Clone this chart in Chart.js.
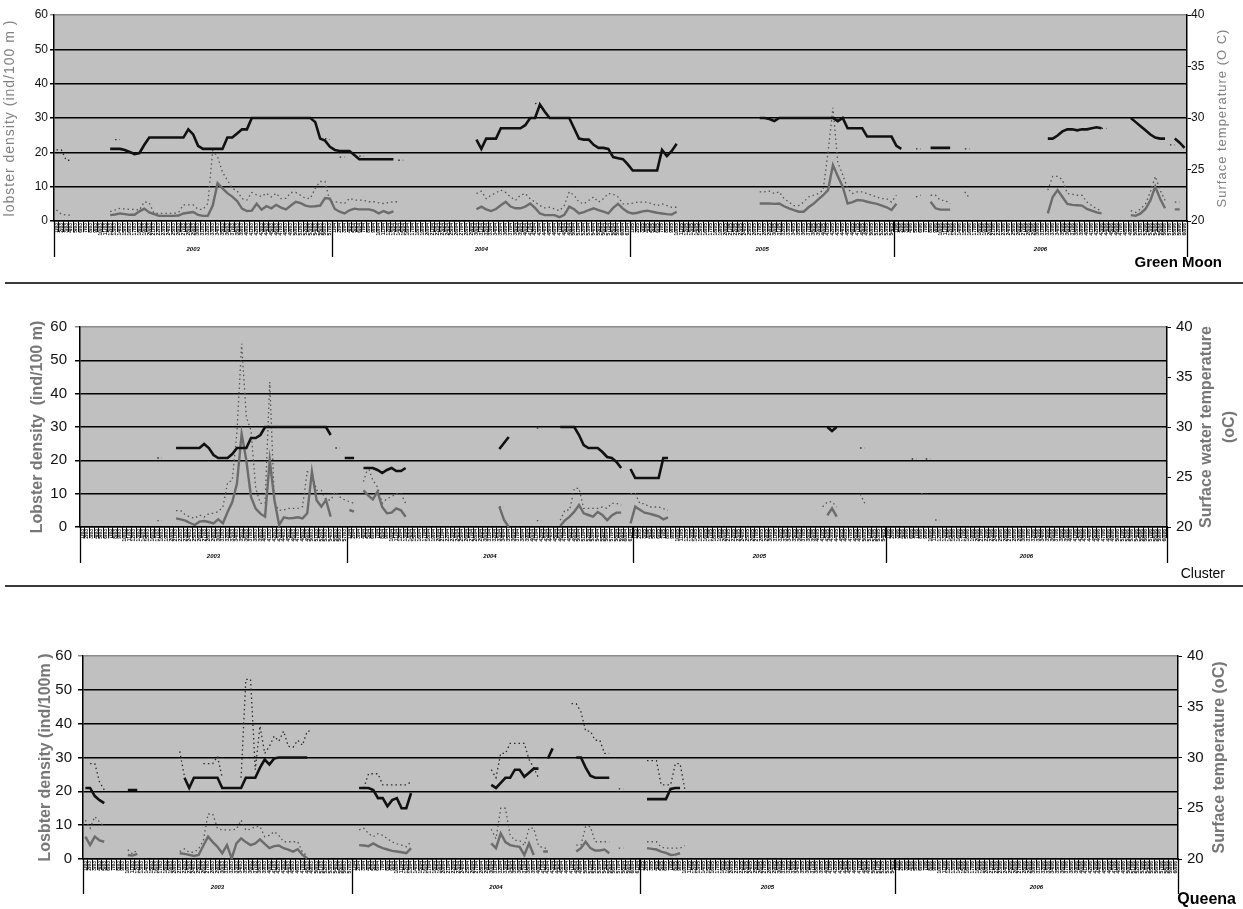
<!DOCTYPE html>
<html>
<head>
<meta charset="utf-8">
<script src="https://cdn.jsdelivr.net/npm/chart.js@4.4.1/dist/chart.umd.min.js"></script>
<style>
  body { margin: 0; background: #fff; }
  .panel { position: absolute; left: 0; width: 1243px; }
</style>
</head>
<body>
<div class="panel" style="top:0;height:290px"><canvas id="green" width="1243" height="290"></canvas></div>
<div class="panel" style="top:290px;height:300px"><canvas id="cluster" width="1243" height="300"></canvas></div>
<div class="panel" style="top:590px;height:319px"><canvas id="queena" width="1243" height="319"></canvas></div>
<script>
const _ = null;
const gap = n => Array(n).fill(null);
const FONT = '"Liberation Sans", Arial, sans-serif';

// sampling dates, grouped by year
const years = ['2003', '2004', '2005', '2006'];
const samplesPerYear = [57, 61, 54, 60];
const tickLabels = [];
years.forEach((y, k) => {
  for (let d = 1; d <= samplesPerYear[k]; d++) tickLabels.push(d + '/' + y.slice(2));
});

// ---- Green Moon ----
const gmTemp = [...gap(11),
  27.0,27.0,27.0,26.9,26.7,26.5,26.6,27.4,28.1,28.1,28.1,28.1,28.1,28.1,28.1,28.1,28.9,28.4,27.3,
  27.0,27.0,27.0,27.0,27.0,28.1,28.1,28.5,28.9,28.9,30,30,30,30,30,30,30,30,30,30,30,30,30,
  29.6,28.0,27.8,27.2,26.9,26.8,26.8,26.8,26.4,26.0,26,26,26,26,26,26,26,
  ...gap(16),
  27.9,27.0,28.0,28.0,28.0,29,29,29,29,29,29.3,30,30,31.3,30.6,30,30,30,30,30,29.0,28.0,27.9,27.9,
  27.4,27.1,27.1,27.0,26.2,26.1,26.0,25.5,24.9,24.9,24.9,24.9,24.9,24.9,26.9,26.3,26.8,27.5,
  ...gap(16),
  30,30,29.9,29.7,30,30,30,30,30,30,30,30,30,30,30,30,29.7,30,29,29,29,29,28.2,28.2,28.2,28.2,28.2,28.2,27.3,27.0,
  ...gap(5), 27.1,27.1,27.1,27.1,27.1, ...gap(19),
  28.0,28.0,28.3,28.7,28.9,28.9,28.8,28.9,28.9,29.0,29.1,29.0, ...gap(5),
  30,29.6,29.2,28.8,28.4,28.1,28.0,28.0, _, 28.0,27.6,27.1];
const gmDens = [...gap(11),
  1.7,1.9,2.2,2.0,1.8,1.8,2.8,3.6,2.5,
  2.0,1.5,1.5,1.5,1.5,1.6,2.2,2.4,2.6,1.8,
  1.5,1.5,4.5,11.0,9.5,8.1,7.1,5.8,3.6,2.9,
  3.0,5.0,3.3,4.3,3.7,4.7,3.9,3.4,4.5,5.6,
  5.2,4.5,4.2,4.3,4.5,6.7,6.5,3.5,2.7,2.2,
  3.1,3.6,3.4,3.4,3.4,3.0,2.2,2.9,2.3,2.8,
  ...gap(16),
  3.4,4.2,3.4,2.9,
  3.5,4.6,5.6,4.2,3.7,3.7,4.2,5.1,3.8,2.2,
  1.7,1.7,1.7,1.1,1.8,4.2,3.4,2.2,2.6,3.2,
  3.7,3.2,2.7,2.2,3.8,5.0,3.6,2.6,2.2,2.4,
  2.8,3.0,2.7,2.4,2.2,2.0,1.9,2.7,
  ...gap(16),
  5.1,5.1,5.1,5.0,5.1,4.3,
  3.7,3.2,2.7,2.7,4.0,5.0,6.3,7.5,9.0,16.3,
  13.0,10.0,5.1,5.5,6.1,6.0,5.6,5.3,5.0,4.5,
  4.0,3.2,5.0,
  ...gap(6), 5.6,3.7,3.3,3.3,3.3, ...gap(19),
  2.2,7.0,9.0,7.0,5.0,4.7,4.6,4.5,3.5,3.0,2.5,2.2, ...gap(5),
  1.7,1.5,2.2,3.5,6.0,10.0,6.5,3.7, _, 3.4,3.4];
const gmDensHi = [3.2,2.0,1.7,1.7, ...gap(7),
  2.7,3.2,3.7,3.5,3.4,3.4,3.2,5.6,5.3,
  2.2,2.2,2.2,2.2,2.2,2.5,4.7,4.7,4.7,3.4,
  3.4,5.1,20.5,18.7,14.2,11.9,9.5,8.8,6.5,6.1,
  8.3,7.6,7.1,8.1,7.0,8.1,6.5,6.6,8.3,8.3,
  7.5,6.6,6.6,9.5,11.5,11.5,5.6,5.6,5.4,5.1,
  6.6,6.1,6.1,6.0,5.6,5.6,5.3,5.1,5.4,5.6,
  5.6,
  ...gap(15),
  8.0,8.7,6.5,7.5,
  8.2,9.0,8.3,7.0,6.0,7.5,8.0,6.5,5.5,4.5,
  3.8,4.0,3.5,3.0,4.5,8.5,7.5,5.5,5.0,6.0,
  7.0,5.5,6.5,8.0,7.8,7.0,5.0,5.0,5.2,5.5,
  5.5,5.5,5.0,4.5,5.0,4.5,4.0,4.0,
  ...gap(16),
  8.5,8.5,8.7,8.0,8.5,6.5,
  5.5,4.5,4.5,5.5,7.0,7.5,8.0,9.0,20.0,33.0,
  17.0,13.5,9.5,8.0,8.5,8.5,8.0,7.5,7.0,6.5,
  6.5,5.5,7.5,
  ...gap(3), 7.0,7.5, _, 7.5,7.5,6.0,6.0,5.0, ...gap(2), 8.5,6.5, ...gap(15),
  9.0,13.0,13.0,12.0,8.0,7.8,7.5,7.5,5.5,4.5,3.5,3.0, ...gap(5),
  3.0,2.5,3.5,5.0,8.5,13.0,9.0,6.0, _, 5.5,5.5];
const gmTempHi = [26.9,26.9,25.9,25.9, ...gap(8), 27.9,27.9, ...gap(41), 28.0,27.9, _, 26.2,26.2,
  ...gap(2), 26.3,26.3, ...gap(6), 25.9,25.9, ...gap(26), 31.4,31.5, ...gap(76), 27.0,27.0,
  ...gap(8), 27.0,27.0, ...gap(26), 29.0,29.0, ...gap(12), 27.4,27.4];

// ---- Cluster ----
const clTemp = [...gap(20),
  27.9,27.9,27.9,27.9,27.9,27.9,28.3,27.9,27.2,26.9,
  26.9,26.9,27.3,27.9,27.9,27.9,28.9,28.9,29.2,30,
  30,30,30,30,30,30,30,30,30,30,
  30,30,30,29.2,
  ...gap(2), 26.9,26.9,26.9, _,
  25.9,25.9,25.9,25.7,25.4,25.7,25.9,25.6,25.6,25.9, ...gap(19),
  27.8,28.4,29.0, ...gap(10),
  30,30,30,30,29.2,28.2,27.9,27.9,27.9,27.5,27.0,26.9,26.5,25.9, _,
  25.8,24.9,24.9,24.9,24.9,24.9,24.9,26.9,26.9, ...gap(33),
  30.0,29.6,30.0];
const clDens = [...gap(20),
  2.6,2.3,1.9,1.2,0.6,1.6,1.8,1.5,1.1,2.3,
  1.1,4.5,7.5,13.0,28.0,20.0,9.0,5.5,4.0,3.1,
  20.0,8.1,0.6,2.9,2.6,2.7,2.9,2.6,4.1,16.6,
  8.0,6.1,8.1,3.1,
  ...gap(3), 5.1,4.6, _,
  11.0,9.5,8.3,10.6,6.0,4.1,4.3,5.6,5.0,3.1, ...gap(19),
  6.1,2.1,0.0, ...gap(10),
  0.3,2.0,3.1,4.6,6.6,4.1,3.6,3.1,4.5,3.6,2.0,3.5,4.3,4.3, _,
  1.1,6.1,5.2,4.3,4.0,3.6,3.2,2.3,2.9, ...gap(33),
  3.5,5.6,3.1];
const clDensHi = [...gap(16), 1.9,1.9, ...gap(2),
  4.9,4.9,3.6,3.0,2.6,3.6,3.0,4.0,4.1,4.6,
  6.0,13.3,14.0,28.5,55.0,33.0,29.0,11.6,7.1,7.1,
  43.5,7.0,5.0,5.1,5.6,5.6,5.6,6.1,16.6,16.0,
  11.0,11.0,8.1,8.1,10.5,9.0,8.1,7.6,7.1, _,
  13.6,18.0,14.0,12.0,7.1,8.5,9.1,10.0,10.0,7.1, ...gap(19),
  6.1,6.1, ...gap(6), 1.9,1.9, ...gap(3),
  2.0,5.1,5.1,11.6,11.6,5.6,5.6,5.6,5.6,6.0,5.6,7.1,7.1,6.5, _,
  10.0,10.0,7.0,7.0,6.0,6.0,6.0,5.5,5.0, ...gap(32),
  6.1,7.5,7.6,6.0, ...gap(4), 9.9,7.1, ...gap(11), 9.9,9.9, _, 2.1,2.1];
const clTempHi = [...gap(16), 26.9,26.9, ...gap(36), 27.9,27.9, ...gap(41), 29.9,29.9,
  ...gap(67), 27.9,27.9, ...gap(9), 26.8,26.8, _, 26.8,26.8];

// ---- Queena ----
const qnTemp = [27.0,27.0,26.2,25.8,25.5, ...gap(4), 26.8,26.8,26.8, ...gap(9),
  28.0,27.0,28.0,28.0,28.0,28.0,28.0,28.0,27.0,
  27.0,27.0,27.0,27.0,28.0,28.0,28.0,29.0,29.8,29.3,
  29.9,30,30,30,30,30,30,30,
  ...gap(10),
  27.0,27.0,27.0,26.8,26.0,26.0,25.2,25.8,26.0,25.0,25.0,26.5, ...gap(16),
  27.3,27.0,27.5,28.0,28.0,28.8,28.8,28.1,28.5,28.9,28.9, _, 29.9,30.9, ...gap(4),
  30.0,30.0,29.0,28.2,28.0,28.0,28.0,28.0, ...gap(7),
  25.9,25.9,25.9,25.9,25.9,26.9,27.0,27.0];
const qnDens = [6.6,4.1,6.6,5.5,5.1, ...gap(4), 1.2,1.0,1.5, ...gap(8),
  1.7,1.5,1.2,0.9,1.2,4.0,6.6,5.0,3.6,1.7,
  4.1,0.2,4.6,6.1,5.0,4.1,4.6,5.8,4.5,3.2,
  3.8,4.0,3.2,2.8,2.2,2.9,1.2,0.2,
  ...gap(10),
  4.1,4.0,3.8,4.6,3.8,3.2,2.8,2.4,2.2,2.0,1.7,3.2, ...gap(16),
  4.6,3.2,7.6,5.0,4.1,3.8,3.6,1.2,4.6,1.2, _, 2.2,2.2, ...gap(5),
  2.2,3.2,5.1,3.2,2.5,2.5,2.8,1.7, ...gap(7),
  3.2,3.0,2.8,2.2,1.8,1.2,1.3,1.7];
const qnDensHi = [11.5,9.1,12.5,11.0,9.5, ...gap(4), 2.7,1.5,2.7, ...gap(8),
  2.2,3.0,2.0,2.0,3.0,5.5,13.3,13.3,9.0,8.6,
  8.6,8.6,8.8,11.5,8.5,8.8,9.6,9.6,6.6,7.0,
  8.1,7.0,5.1,5.1,5.1,5.1,2.0,1.0,
  ...gap(10),
  8.6,9.1,7.5,6.6,7.5,7.0,6.0,5.0,4.5,4.1,3.6,5.1, ...gap(16),
  8.8,6.0,15.0,15.0,7.0,5.5,5.5,4.0,9.1,9.1,4.0,3.2,3.2, ...gap(5),
  4.1,4.1,9.6,9.6,5.1,5.1,5.1,5.1, _, 3.2,3.2, ...gap(4),
  5.1,5.1,5.1,3.5,3.2,3.2,3.2,3.2,4.0];
const qnTempHi = [_, 29.4,29.4,27.6,26.8, ...gap(15), 30.6,28.1, ...gap(3),
  29.4,29.4,29.4,30.1,28.0, ...gap(3),
  28.0,37.7,37.7,28.8,33.1,30.4,31.1,32.1,31.6,32.6,31.1,31.0,31.7,31.2,32.6,32.6, ...gap(9),
  27.0,27.0,28.4,28.4,28.4,27.3,27.3,27.3,27.3,27.3,27.3,27.6, ...gap(16),
  28.8,28.0,30.4,30.4,31.4,31.4,31.4,31.4,29.8,29.0,28.0, ...gap(6),
  35.3,35.3,34.5,32.6,32.6,31.7,31.7,30.4,30.4, _, 26.9,26.9, ...gap(4),
  29.7,29.7,29.7,27.3,27.3,27.3,29.4,29.4,26.9];

// plot background, year blocks, axis titles and station name
function decoration(look) {
  return {
    id: 'deco',
    beforeDraw(chart) {
      const { ctx, chartArea: a } = chart;
      ctx.save();
      ctx.fillStyle = '#c0c0c0';
      ctx.fillRect(a.left, a.top, a.right - a.left, a.bottom - a.top);
      ctx.restore();
    },
    afterDraw(chart) {
      const { ctx, chartArea: a } = chart;
      const x = chart.scales.x;
      const midY = (a.top + a.bottom) / 2;
      ctx.save();
      ctx.strokeStyle = '#000';
      ctx.lineWidth = 1.3;
      ctx.fillStyle = '#000';
      ctx.font = 'bold italic 6px ' + FONT;
      ctx.textAlign = 'center';
      ctx.textBaseline = 'middle';
      const edges = [x.getPixelForValue(-0.5)];
      let first = 0;
      years.forEach((yr, k) => {
        const last = first + samplesPerYear[k];
        edges.push(x.getPixelForValue(last - 0.5));
        ctx.fillText(yr, (edges[k] + edges[k + 1]) / 2, look.yearY);
        first = last;
      });
      edges.forEach(px => {
        const xx = Math.round(px) + 0.5;
        ctx.beginPath();
        ctx.moveTo(xx, a.bottom);
        ctx.lineTo(xx, look.sepBottom);
        ctx.stroke();
      });
      look.titles.forEach(t => {
        ctx.save();
        ctx.translate(t.x, midY);
        ctx.rotate(-Math.PI / 2);
        ctx.font = t.font;
        ctx.fillStyle = t.color;
        ctx.letterSpacing = t.spacing || '0px';
        ctx.fillText(t.text, 0, 0);
        ctx.restore();
      });
      ctx.font = look.name.font;
      ctx.textAlign = 'right';
      ctx.fillStyle = '#000';
      ctx.fillText(look.name.text, look.name.x, look.name.y);
      if (look.ruleY) {
        ctx.strokeStyle = '#3a3a3a';
        ctx.lineWidth = 2;
        ctx.beginPath();
        ctx.moveTo(5, look.ruleY);
        ctx.lineTo(chart.width, look.ruleY);
        ctx.stroke();
      }
      ctx.restore();
    }
  };
}

function makePanel(id, temp, dens, tempHi, densHi, look) {
  new Chart(document.getElementById(id), {
    type: 'line',
    data: {
      labels: tickLabels,
      datasets: [
        { label: 'Surface temperature', data: temp, yAxisID: 'y2', borderColor: '#111', borderWidth: 2.6 },
        { label: 'Lobster density', data: dens, yAxisID: 'y', borderColor: '#6c6c6c', borderWidth: 2.4 },
        { label: 'Temperature (upper)', data: tempHi, yAxisID: 'y2', borderColor: '#2b2b2b', borderWidth: 1.3, borderDash: [1.5, 3] },
        { label: 'Density (upper)', data: densHi, yAxisID: 'y', borderColor: '#555', borderWidth: 1.3, borderDash: [1.5, 3] }
      ]
    },
    options: {
      responsive: false,
      animation: false,
      devicePixelRatio: 1,
      layout: { padding: { top: look.top, left: 0, right: 0, bottom: 0 } },
      elements: { point: { radius: 0 }, line: { tension: 0, fill: false } },
      plugins: { legend: { display: false }, tooltip: { enabled: false } },
      scales: {
        x: {
          offset: true,
          grid: { offset: true, drawOnChartArea: false, tickLength: 11, color: '#000', lineWidth: 1 },
          border: { color: '#000', width: 1.5 },
          ticks: { autoSkip: false, minRotation: 90, maxRotation: 90, padding: -9, color: '#000',
                   font: { size: 5, weight: 'bold', family: FONT } },
          afterFit: s => { s.height = look.xH; }
        },
        y: {
          position: 'left', min: 0, max: 60,
          ticks: { stepSize: 10, padding: look.lPad, color: '#111', font: { size: look.tick, family: FONT } },
          grid: { color: c => (c.tick && c.tick.value === 60 ? '#8c8c8c' : '#000'), lineWidth: 1.5, tickLength: look.lTick },
          border: { color: '#000', width: 1.5 },
          afterFit: s => { s.width = look.left; }
        },
        y2: {
          position: 'right', min: 20, max: 40,
          ticks: { stepSize: 5, padding: look.rPad, color: '#111', font: { size: look.tick, family: FONT } },
          grid: { drawOnChartArea: false, tickLength: 4, color: '#000' },
          border: { color: '#000', width: 1.5 },
          afterFit: s => { s.width = look.rightW; }
        }
      }
    },
    plugins: [decoration(look)]
  });
}

makePanel('green', gmTemp, gmDens, gmTempHi, gmDensHi, {
  top: 15, xH: 69, left: 54, rightW: 56, tick: 12, lPad: 2, lTick: 4, rPad: 0,
  yearY: 249, sepBottom: 257, ruleY: 283,
  titles: [
    { text: 'lobster density (ind/100 m )', x: 10, font: '14px ' + FONT, color: '#808080', spacing: '1px' },
    { text: 'Surface temperature (O C)', x: 1222, font: '13px ' + FONT, color: '#808080', spacing: '1px' }
  ],
  name: { text: 'Green Moon', x: 1222, y: 263, font: 'bold 15px ' + FONT }
});

makePanel('cluster', clTemp, clDens, clTempHi, clDensHi, {
  top: 37, xH: 63, left: 80, rightW: 76, tick: 15, lPad: 8, lTick: 5, rPad: 5,
  yearY: 266, sepBottom: 273, ruleY: 296,
  titles: [
    { text: 'Lobster density  (ind/100 m)', x: 38, font: 'bold 16px ' + FONT, color: '#777' },
    { text: 'Surface water temperature', x: 1207, font: 'bold 16px ' + FONT, color: '#777' },
    { text: '(oC)', x: 1230, font: 'bold 16px ' + FONT, color: '#777' }
  ],
  name: { text: 'Cluster', x: 1225, y: 284, font: '14px ' + FONT }
});

makePanel('queena', qnTemp, qnDens, qnTempHi, qnDensHi, {
  top: 66, xH: 50, left: 83, rightW: 65, tick: 15, lPad: 6, lTick: 5, rPad: 5,
  yearY: 297, sepBottom: 304, ruleY: 0,
  titles: [
    { text: 'Losbter density (ind/100m )', x: 46, font: 'bold 16px ' + FONT, color: '#777' },
    { text: 'Surface temperature (oC)', x: 1220, font: 'bold 16px ' + FONT, color: '#777' }
  ],
  name: { text: 'Queena', x: 1236, y: 310, font: 'bold 16px ' + FONT }
});
</script>
</body>
</html>
